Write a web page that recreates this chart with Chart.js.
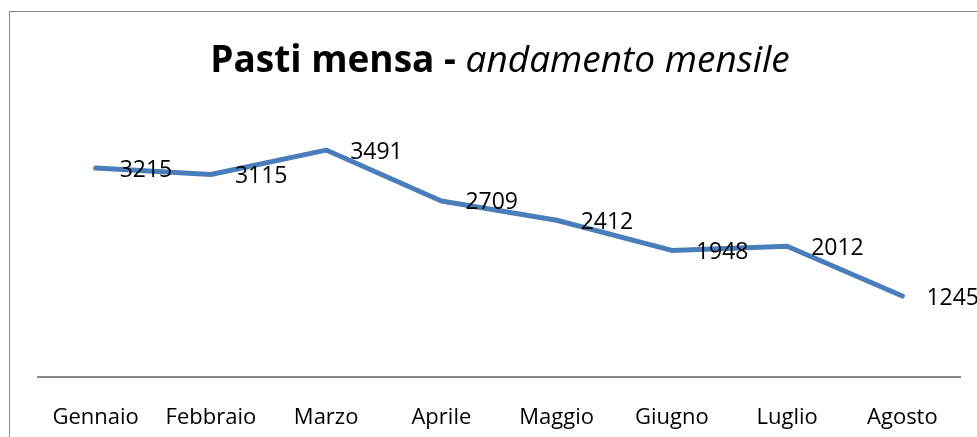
<!DOCTYPE html>
<html>
<head>
<meta charset="utf-8">
<script src="https://cdn.jsdelivr.net/npm/chart.js@4/dist/chart.umd.min.js"></script>
<style>
  html, body { margin: 0; padding: 0; background: #fff; width: 977px; height: 437px; overflow: hidden; }
  #frame { position: absolute; left: 9px; top: 11px; width: 1100px; height: 600px; border: 1.5px solid #8a8a8a; box-sizing: border-box; }
  #wrap { position: absolute; left: 0; top: 0; width: 977px; height: 437px; }
</style>
</head>
<body>
<div id="frame"></div>
<div id="wrap"><canvas id="c" width="977" height="437"></canvas></div>
<script>
const categories = ['Gennaio', 'Febbraio', 'Marzo', 'Aprile', 'Maggio', 'Giugno', 'Luglio', 'Agosto'];
const pasti = [3215, 3115, 3491, 2709, 2412, 1948, 2012, 1245];
const titleBold = 'Pasti mensa - ';
const titleItalic = 'andamento mensile';

const FONT = '"Open Sans", "Liberation Sans", sans-serif';

const titlePlugin = {
  id: 'mixedTitle',
  afterDraw(chart) {
    const ctx = chart.ctx;
    ctx.save();
    ctx.fillStyle = '#000';
    ctx.textBaseline = 'alphabetic';
    const fb = 'bold 37px ' + FONT;
    const fi = 'italic 37px ' + FONT;
    ctx.font = fb; const wb = ctx.measureText(titleBold).width;
    ctx.font = fi; const wi = ctx.measureText(titleItalic).width;
    const cx = 500;
    let x = cx - (wb + wi) / 2;
    ctx.font = fb; ctx.textAlign = 'left'; ctx.fillText(titleBold, x, 72);
    ctx.font = fi; ctx.fillText(titleItalic, x + wb, 72);
    ctx.restore();
  }
};

const labelPlugin = {
  id: 'pointLabels',
  afterDatasetsDraw(chart) {
    const ctx = chart.ctx;
    const meta = chart.getDatasetMeta(0);
    ctx.save();
    ctx.fillStyle = '#000';
    ctx.font = '23px ' + FONT;
    ctx.textAlign = 'left';
    ctx.textBaseline = 'middle';
    meta.data.forEach((pt, i) => {
      ctx.fillText(String(pasti[i]), pt.x + 24, pt.y + 2);
    });
    ctx.restore();
  }
};

new Chart(document.getElementById('c'), {
  type: 'line',
  data: {
    labels: categories,
    datasets: [{
      data: pasti,
      borderColor: '#4a7ebb',
      borderWidth: 5,
      borderCapStyle: 'round',
      borderJoinStyle: 'round',
      pointRadius: 0,
      tension: 0,
      fill: false
    }]
  },
  options: {
    responsive: false,
    animation: false,
    devicePixelRatio: 1,
    layout: { padding: { left: 38, right: 17, top: 117, bottom: 0 } },
    plugins: { legend: { display: false }, title: { display: false }, tooltip: { enabled: false } },
    scales: {
      x: {
        offset: true,
        grid: { display: false },
        border: { display: true, color: '#878787', width: 2 },
        ticks: { color: '#000', font: { family: FONT, size: 22 }, padding: 20, maxRotation: 0, autoSkip: false },
        afterFit(scale) { scale.height = 60; }
      },
      y: {
        display: false,
        min: 0,
        max: 4000
      }
    }
  },
  plugins: [titlePlugin, labelPlugin]
});
</script>
</body>
</html>
